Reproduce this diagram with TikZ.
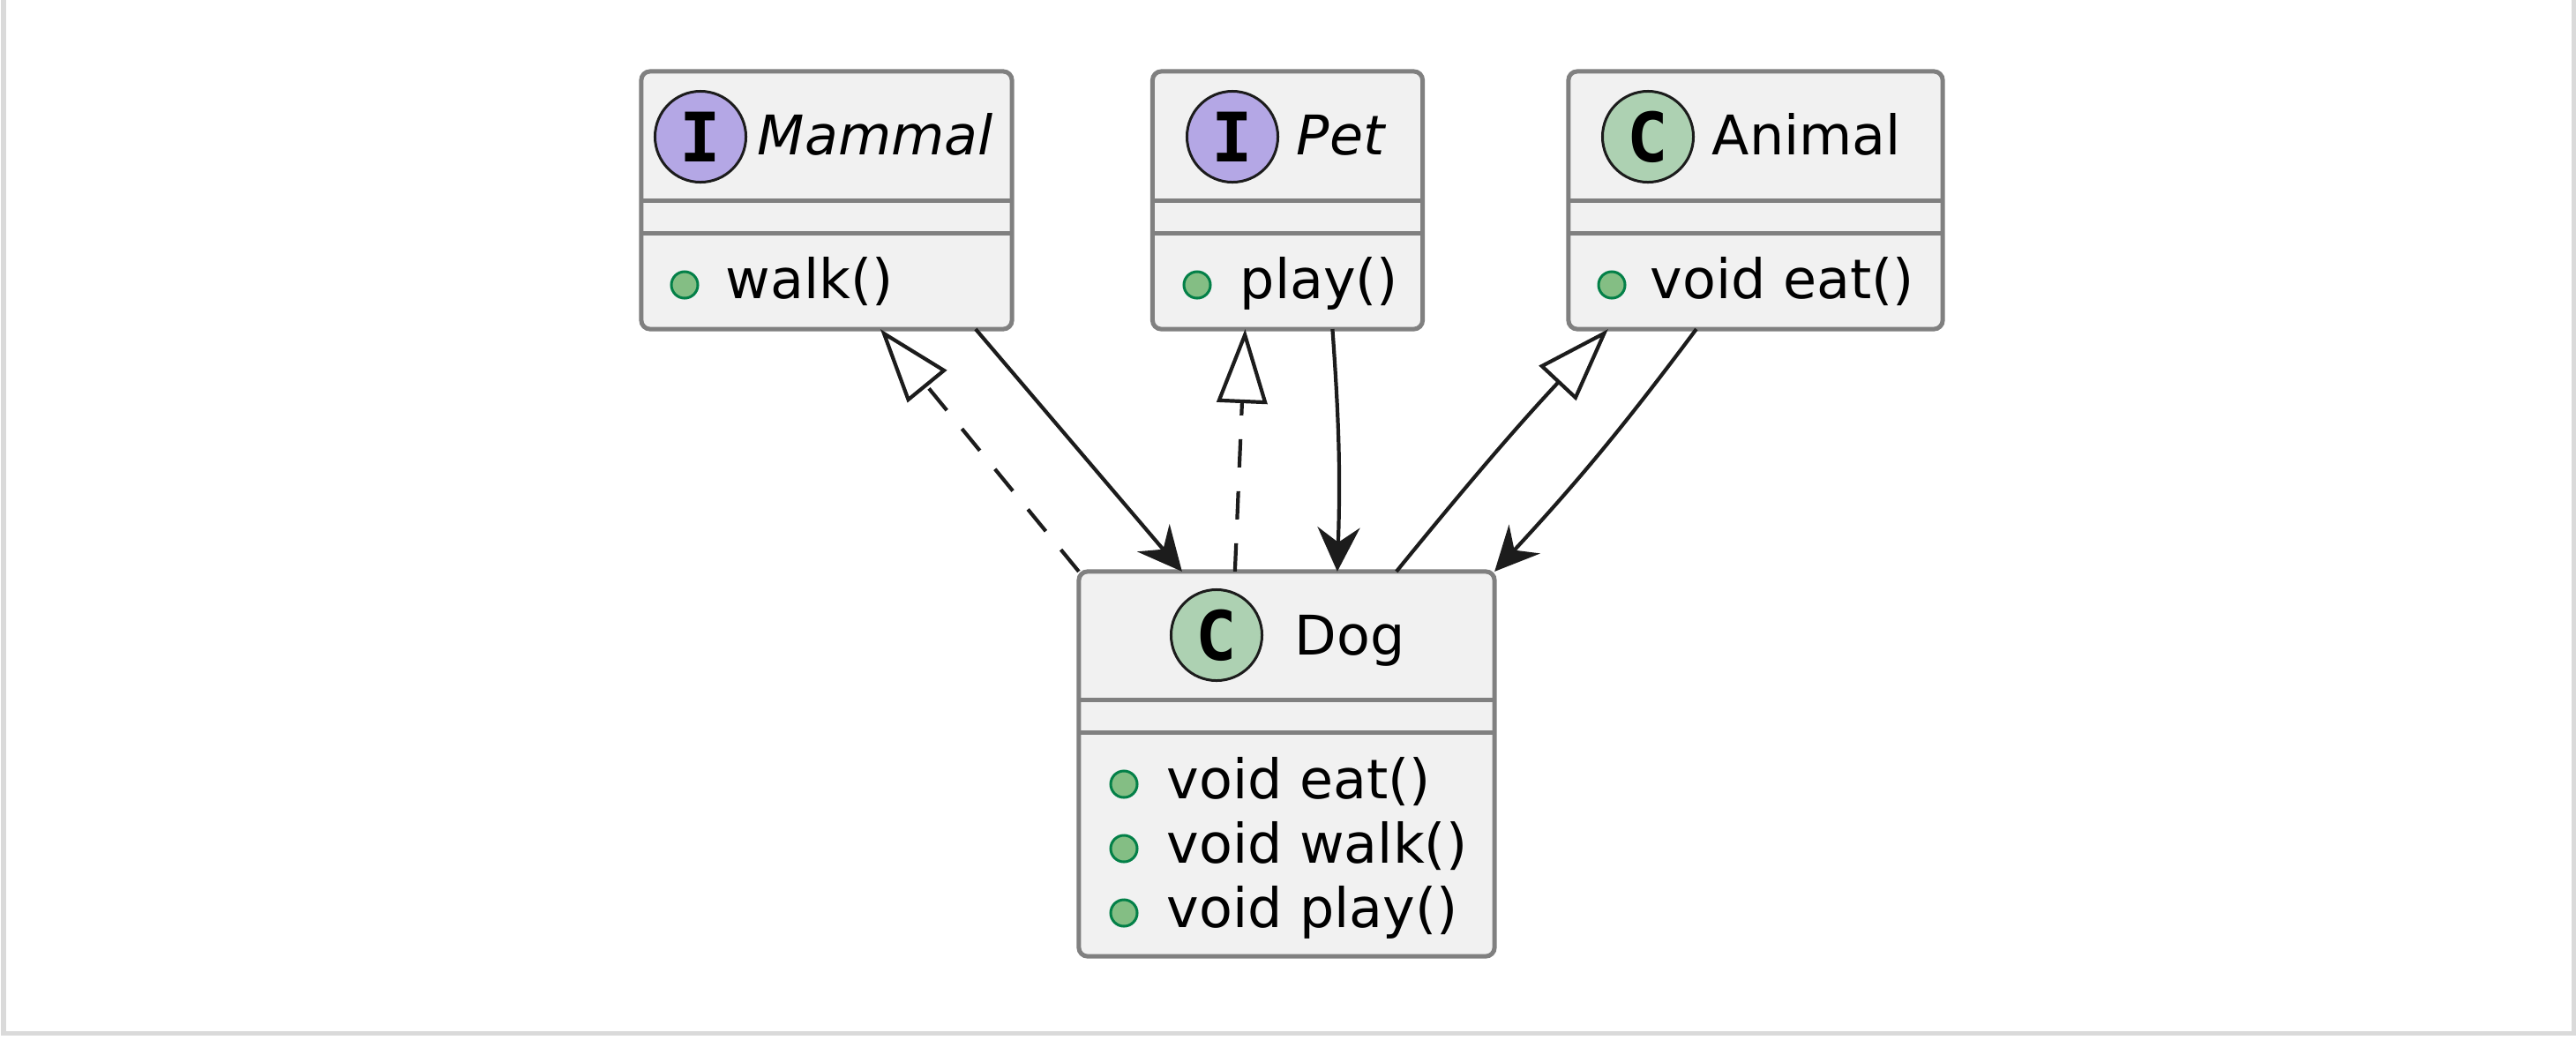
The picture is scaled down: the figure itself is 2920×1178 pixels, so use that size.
\documentclass[tikz,border=0pt]{standalone}
\usepackage{fontspec}
\setmainfont{DejaVu Sans}
\newfontfamily\circfont{DejaVu Sans Mono}
\usetikzlibrary{arrows.meta,calc}
\definecolor{boxfill}{HTML}{F1F1F1}
\definecolor{boxline}{HTML}{808080}
\definecolor{ifill}{HTML}{B4A7E5}
\definecolor{cfill}{HTML}{ADD1B2}
\definecolor{bfill}{HTML}{84BE84}
\definecolor{bline}{HTML}{038048}
\definecolor{arrcol}{HTML}{1C1C1C}
\definecolor{framecol}{HTML}{DADADA}
\tikzset{
  classbox/.style={draw=boxline, fill=boxfill, line width=0.05cm, rounded corners=0.1cm, inner sep=0pt, outer sep=0pt},
  sepline/.style={draw=boxline, line width=0.05cm},
  badge/.style={circle, draw=arrcol, line width=0.03cm, minimum size=1.03cm, inner sep=0pt, font=\circfont\bfseries\fontsize{22}{22}\selectfont},
  ibadge/.style={badge, fill=ifill},
  cbadge/.style={badge, fill=cfill},
  bulletdot/.style={circle, draw=bline, fill=bfill, line width=0.03cm, minimum size=0.30cm, inner sep=0pt},
  txt/.style={inner sep=0pt, anchor=base west, font=\fontsize{17.6}{21}\selectfont},
  itxt/.style={txt, font=\fontsize{17.6}{21}\selectfont\itshape},
  assoc/.style={draw=arrcol, line width=0.042cm, -{Stealth[length=0.5cm, width=0.48cm, inset=0.17cm]}},
  realize/.style={draw=arrcol, line width=0.042cm, dash pattern=on 0.32cm off 0.27cm, -{Triangle[open, length=0.84cm, width=0.57cm]}},
  general/.style={draw=arrcol, line width=0.042cm, -{Triangle[open, length=0.84cm, width=0.57cm]}},
}
\begin{document}
\begin{tikzpicture}[x=0.01cm, y=-0.01cm]
\useasboundingbox (0,0) rectangle (2920,1178);
% frame
\draw[framecol, line width=0.05cm] (4,0) -- (4,1171) -- (2917,1171) -- (2917,0);

% Mammal
\node[classbox, minimum width=4.2cm, minimum height=2.92cm] (mammal) at (937,227) {};
\draw[sepline] (mammal.west |- 0,227) -- (mammal.east |- 0,227);
\draw[sepline] (mammal.west |- 0,264) -- (mammal.east |- 0,264);
\node[ibadge] (mammalI) at (794,155) {I};
\node[itxt] (mammalName) at (858,175) {Mammal};
\node[bulletdot] (mammalB1) at (776,323) {};
\node[txt] (mammalM1) at (822,338) {walk()};

% Pet
\node[classbox, minimum width=3.06cm, minimum height=2.92cm] (pet) at (1459.5,227) {};
\draw[sepline] (pet.west |- 0,227) -- (pet.east |- 0,227);
\draw[sepline] (pet.west |- 0,264) -- (pet.east |- 0,264);
\node[ibadge] (petI) at (1397,155) {I};
\node[itxt] (petName) at (1469,175) {Pet};
\node[bulletdot] (petB1) at (1357,323) {};
\node[txt] (petM1) at (1405,338) {play()};

% Animal
\node[classbox, minimum width=4.24cm, minimum height=2.92cm] (animal) at (1990,227) {};
\draw[sepline] (animal.west |- 0,227) -- (animal.east |- 0,227);
\draw[sepline] (animal.west |- 0,264) -- (animal.east |- 0,264);
\node[cbadge] (animalC) at (1868,155) {C};
\node[txt] (animalName) at (1940,175) {Animal};
\node[bulletdot] (animalB1) at (1827,323) {};
\node[txt] (animalM1) at (1870,338) {void eat()};

% Dog
\node[classbox, minimum width=4.71cm, minimum height=4.36cm] (dog) at (1458.5,866) {};
\draw[sepline] (dog.west |- 0,793) -- (dog.east |- 0,793);
\draw[sepline] (dog.west |- 0,830) -- (dog.east |- 0,830);
\node[cbadge] (dogC) at (1379,720) {C};
\node[txt] (dogName) at (1467,742) {Dog};
\node[bulletdot] (dogB1) at (1274,889) {};
\node[txt] (dogM1) at (1322,905) {void eat()};
\node[bulletdot] (dogB2) at (1274,962) {};
\node[txt] (dogM2) at (1322,978) {void walk()};
\node[bulletdot] (dogB3) at (1274,1035) {};
\node[txt] (dogM3) at (1322,1051) {void play()};

% connectors
\draw[realize] (dog.north west) -- ($(mammal.south west)+(271,0)$);
\draw[assoc] ($(mammal.south west)+(379,0)$) -- ($(dog.north west)+(117,0)$);
\draw[realize] ($(dog.north west)+(177,0)$) -- ($(pet.south west)+(105,0)$);
\draw[assoc] ($(pet.south west)+(204,0)$) to[bend left=3] ($(dog.north west)+(293,0)$);
\draw[general] ($(dog.north west)+(360,0)$) to[bend left=2] ($(animal.south west)+(45,0)$);
\draw[assoc] ($(animal.south west)+(145,0)$) to[bend left=3] (dog.north east);
\end{tikzpicture}
\end{document}
